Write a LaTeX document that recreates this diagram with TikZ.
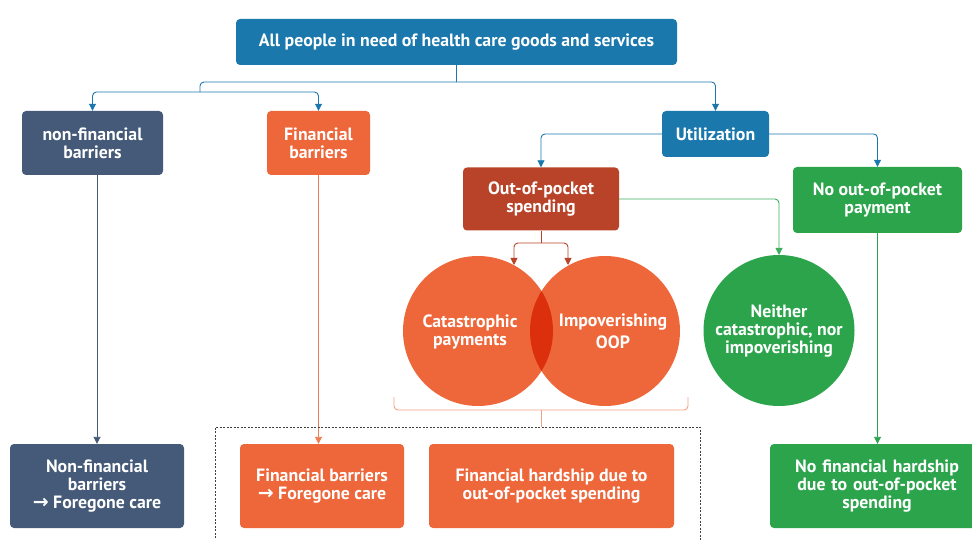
\documentclass[tikz,border=0pt]{standalone}
\usepackage{fontspec}
\setmainfont{PT Sans}
\newfontfamily\arrowfont{DejaVu Sans}
\usetikzlibrary{arrows.meta}
\definecolor{cblue}{HTML}{1B78AC}
\definecolor{cslate}{HTML}{445A78}
\definecolor{corange}{HTML}{EE673A}
\definecolor{cred}{HTML}{B94328}
\definecolor{cgreen}{HTML}{2CA44C}
\definecolor{cmid}{HTML}{DC2F0E}
\definecolor{clorange}{HTML}{F2A284}
\definecolor{corangeline}{HTML}{F07E55}
\definecolor{cgreenline}{HTML}{3CAE5C}
\newcommand{\rarr}{{\arrowfont\fontsize{19}{18}\selectfont\char"2192}}
\tikzset{
  box/.style={rounded corners=4pt, text=white, font=\bfseries\fontsize{17.8}{18}\selectfont, align=center, inner sep=0pt},
  txt/.style={text=white, font=\bfseries\fontsize{17.8}{18}\selectfont, align=center, inner sep=0pt},
  conn/.style={line width=0.9pt, rounded corners=4pt, -{Triangle[length=7pt,width=7pt]}},
  plain/.style={line width=0.9pt, rounded corners=4pt},
}
\begin{document}
\begin{tikzpicture}[x=1pt,y=-1pt]
\useasboundingbox (0,0) rectangle (972,540);
% boxes
\node[box, fill=cblue, minimum width=441, minimum height=46] (top) at (456.5,42) {All people in need of health care goods and services};
\node[box, fill=cslate, minimum width=141, minimum height=64] (nonfin) at (92.5,143) {non-financial\\barriers};
\node[box, fill=corange, minimum width=103, minimum height=64] (fin) at (318.5,143) {Financial\\barriers};
\node[box, fill=cblue, minimum width=107, minimum height=46] (util) at (715.5,134) {Utilization};
\node[box, fill=cred, minimum width=156, minimum height=63] (oop) at (541,199) {Out-of-pocket\\spending};
\node[box, fill=cgreen, minimum width=169, minimum height=66] (nooop) at (877.5,200) {No out-of-pocket\\payment};
% circles
\fill[corange] (478,331) circle (75);
\fill[corange] (605,331) circle (75);
\begin{scope}
\clip (478,331) circle (75);
\fill[cmid] (605,331) circle (75);
\end{scope}
\node[txt] (catas) at (470,332) {Catastrophic\\payments};
\node[txt, font=\bfseries\fontsize{17.8}{22}\selectfont] (impov) at (613,331) {Impoverishing\\OOP};
\fill[cgreen] (779,330.5) circle (75.5);
\node[txt] (neither) at (779,331) {Neither\\catastrophic, nor\\impoverishing};
% bottom boxes
\node[box, fill=cslate, minimum width=174, minimum height=84] (nfres) at (97,486) {Non-financial\\barriers\\\rarr{} Foregone care};
\node[box, fill=corange, minimum width=164, minimum height=84] (fbres) at (322,486) {Financial barriers\\\rarr{} Foregone care};
\node[box, fill=corange, minimum width=245, minimum height=84] (hard) at (551.5,486) {Financial hardship due to\\out-of-pocket spending};
\node[box, fill=cgreen, minimum width=214, minimum height=84, text width=200] (nohard) at (877,486) {No financial hardship\\due to out-of-pocket\\spending};
% coordinates
\coordinate (j1) at (456,82);
\coordinate (j1b) at (200,82);
\coordinate (j1c) at (200,92);
\coordinate (j2) at (541,243);
\coordinate (ca) at (514,265);
\coordinate (ia) at (568,265);
\coordinate (na) at (779,255);
% connectors
\draw[plain, cblue] (top.south -| j1) -- (j1);
\draw[plain, cblue] (j1) -- (j1b) -- (j1c);
\draw[conn, cblue] (j1c) -| (nonfin.north);
\draw[conn, cblue] (j1c) -| (fin.north);
\draw[conn, cblue] (j1) -| (util.north);
\draw[conn, cblue] (util.west) -| (oop.north);
\draw[conn, cblue] (util.east) -| (nooop.north);
\draw[conn, cgreenline] (oop.east) -| (na);
\draw[plain, cred] (oop.south) -- (j2);
\draw[conn, cred] (j2) -| (ca);
\draw[conn, cred] (j2) -| (ia);
\draw[conn, cslate] (nonfin.south -| nfres.north) -- (nfres.north);
\draw[conn, corangeline] (fin.south) -- (fin.south |- fbres.north);
\draw[conn, cgreen] (nooop.south) -- (nooop.south |- nohard.north);
% bracket
\coordinate (bl) at (394,397);
\coordinate (br) at (688,397);
\coordinate (bs) at (541,410);
\coordinate (bd) at (541,427);
\draw[plain, clorange] (bl) |- (br |- bs) -- (br);
\draw[line width=0.9pt, clorange] (bs) -- (bd);
% dashed frame
\draw[line width=0.7pt, black!75, dash pattern=on 2pt off 1.5pt] (215,545) |- (700,427) -- (700,545);
\end{tikzpicture}
\end{document}
